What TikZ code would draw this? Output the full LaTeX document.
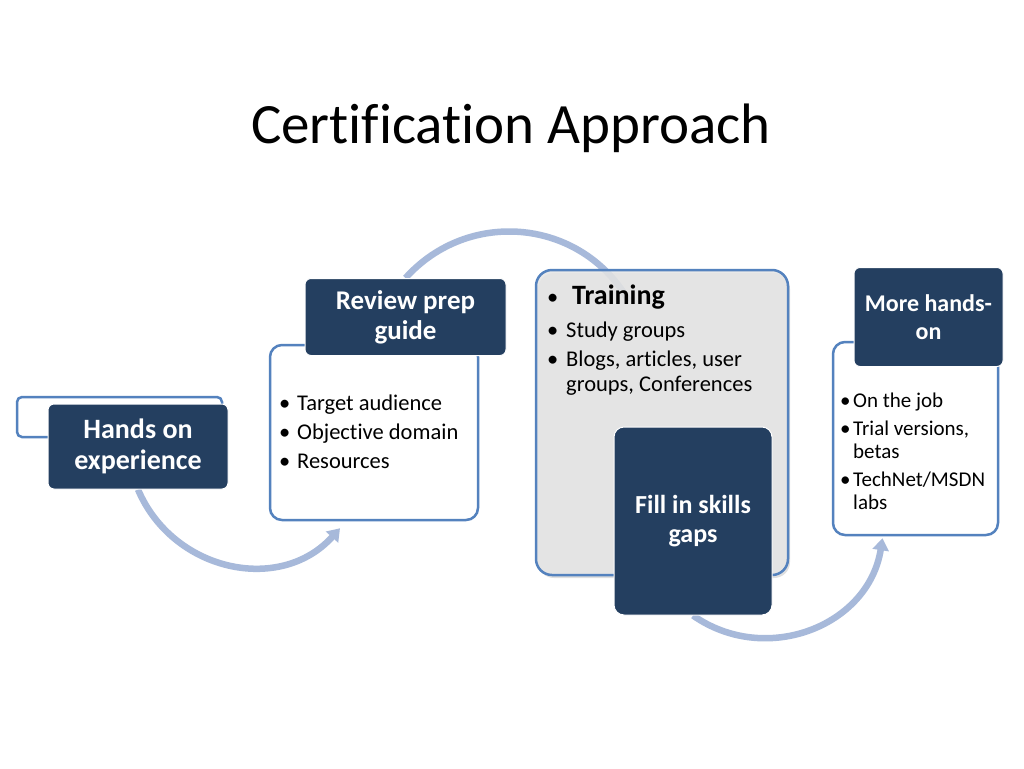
\documentclass[tikz,border=0pt]{standalone}
\usepackage{fontspec}
\setmainfont{Carlito}[Ligatures={NoCommon}]
\usetikzlibrary{positioning,calc,arrows.meta,shadows,backgrounds}
\definecolor{SlideNavy}{RGB}{36,63,96}
\definecolor{SlideBlue}{RGB}{84,130,190}
\definecolor{ArcBlue}{RGB}{167,185,218}
\definecolor{PanelGray}{RGB}{230,230,230}
\newcommand{\lbul}[1][16pt]{\makebox[#1][l]{\textbullet}}
\tikzset{
  darkbox/.style={draw=white, line width=1pt, fill=SlideNavy, text=white, rounded corners=6pt, align=center, inner sep=0pt},
  listbox/.style={draw=SlideBlue, line width=2.5pt, fill=white, rounded corners=12pt},
  listtext/.style={anchor=north west, align=left, inner sep=0pt, font=\fontsize{22.5}{29}\selectfont},
  cyclearc/.style={draw=ArcBlue, line width=6.5pt, -{Triangle[width=16pt,length=12pt]}},
}
\begin{document}
\begin{tikzpicture}[x=1pt,y=1pt]
\useasboundingbox (0,0) rectangle (1024,-768);
% title
\node[anchor=base, font=\fontsize{57}{66}\selectfont] (title) at (511,-143) {Certification Approach};

% hands on
\node[listbox, rounded corners=5pt, minimum width=205pt, minimum height=40pt] (handsframe) at (119.5,-417) {};
\node[darkbox, minimum width=180pt, minimum height=85pt, font=\bfseries\fontsize{28}{31}\selectfont] (hands) at (138,-446.5) {Hands on\\experience};

% prep guide
\node[listbox, minimum width=208pt, minimum height=175pt] (reviewframe) at (374,-432.5) {};
\node[darkbox, minimum width=201pt, minimum height=77pt, font=\bfseries\fontsize{27}{30}\selectfont] (review) at (405.5,-317) {Review prep\\guide};
\node[listtext] (reviewlist) at (279,-395) {\lbul[18pt]Target audience\\\lbul[18pt]Objective domain\\\lbul[18pt]Resources};

% training
\node[listbox, fill=PanelGray, fill opacity=0.85, rounded corners=16pt, minimum width=252pt, minimum height=305pt,
  drop shadow={opacity=0.25, shadow xshift=2pt, shadow yshift=-3pt}] (training) at (662,-422.5) {};
\node[listtext, font=\fontsize{22.5}{25}\selectfont] (traininglist) at (547,-284.5) {\lbul[25pt]{\fontsize{28}{25}\selectfont\bfseries Training}\\[8pt]\lbul[19pt]Study groups\\[4pt]\lbul[19pt]Blogs, articles, user\\\hspace*{19pt}groups, Conferences};
\node[darkbox, minimum width=158pt, minimum height=188pt, rounded corners=10pt, font=\bfseries\fontsize{26}{29}\selectfont] (skills) at (693,-521) {Fill in skills\\gaps};

% more hands-on
\node[listbox, minimum width=165pt, minimum height=193pt] (moreframe) at (915.5,-438.5) {};
\node[darkbox, minimum width=149pt, minimum height=99pt, font=\bfseries\fontsize{24}{28}\selectfont] (more) at (928.5,-317) {More hands-\\on};
\node[listtext, font=\fontsize{21}{23.5}\selectfont] (morelist) at (840,-393) {\lbul[13pt]On the job\\[4pt]\lbul[13pt]Trial versions,\\\hspace*{13pt}betas\\[4pt]\lbul[13pt]TechNet/MSDN\\\hspace*{13pt}labs};

% cycle arcs
\begin{pgfonlayer}{background}
\fill[white] (0,0) rectangle (1024,-768);
\draw[cyclearc] (hands.south) to[out=-67,in=228,looseness=1.11] ($(reviewframe.south)+(-34,-7)$);
\draw[cyclearc,-] (review.north) to[out=48,in=120,looseness=1.08] ($(training.north west)+(94,-32)$);
\draw[cyclearc] (skills.south) to[out=-35,in=-99,looseness=1.11] ($(moreframe.south)+(-33,-2)$);
\end{pgfonlayer}
\end{tikzpicture}
\end{document}
